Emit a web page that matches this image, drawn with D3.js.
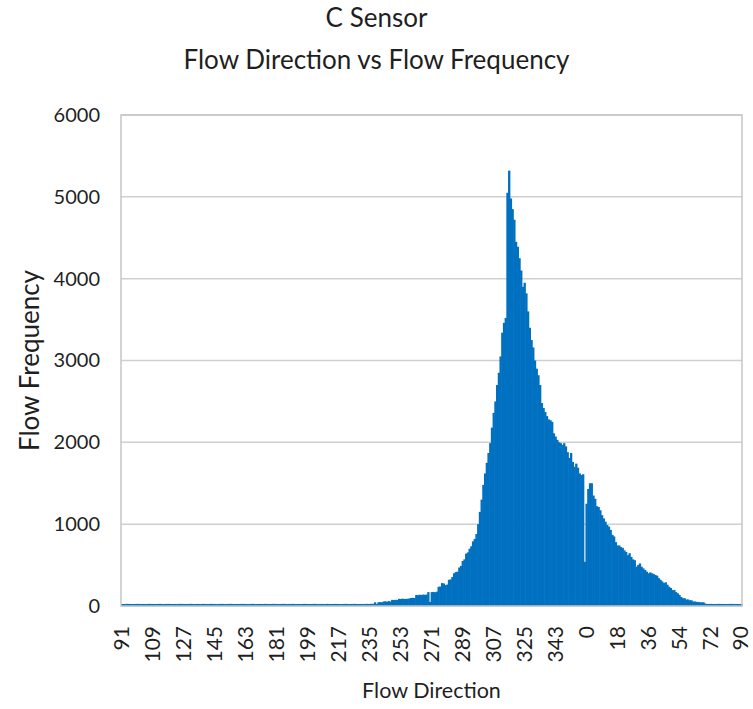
<!DOCTYPE html>
<html>
<head>
<meta charset="utf-8">
<script src="https://cdn.jsdelivr.net/npm/d3@7"></script>
<style>
  body { margin: 0; background: #fff; }
  text { font-family: Lato, "Open Sans", sans-serif; fill: #1f1f1f; }
</style>
</head>
<body>
<div id="chart"></div>
<script>
// directions run from 91 round through 360 and on to 90
const directions = d3.range(91, 361).concat(d3.range(0, 91)).map(String);

// counts for 91..360
const freqWest = [
  25,24,25,26,25,25,24,25,25,26,25,24,
  25,25,24,25,26,25,25,24,25,25,26,25,
  24,25,25,26,25,24,25,25,24,25,26,25,
  25,24,25,25,26,25,24,25,25,25,24,26,
  25,25,24,25,26,25,25,24,25,25,26,25,
  24,25,25,26,25,24,25,25,24,25,26,25,
  25,24,25,25,26,25,24,25,25,25,24,26,
  25,25,24,25,26,25,25,24,25,25,26,25,
  24,25,25,26,25,24,25,25,24,25,26,25,
  25,24,25,25,26,25,24,25,25,25,24,26,
  25,25,24,25,26,25,25,24,25,25,26,25,
  24,25,25,26,25,24,25,25,24,25,26,25,
  25,28,25,
  45,25,45,48,45,
  55,58,52,60,55,
  75,72,76,74,
  88,85,90,86,87,88,92,
  98,100,97,
  135,132,138,135,140,136,140,
  170,50,
  170,172,168,175,
  235,238,280,275,255,262,320,325,355,400,415,420,470,490,550,570,640,655,700,730,790,820,
  880,1000,1150,1300,1480,1620,1750,1870,1990,2180,2360,2500,2700,2850,3050,3340,3460,3520,
  5050,5320,4980,4850,4720,4450,4390,4250,4100,3900,3950,3820,3600,3400,3250,3160,
  3000,2900,2820,2700,2480,2420,2370,2320,2280,2270,2250,2110,2070,2030,2000,1990,
  1970,1990,1950,1880,1810,1870,1760,1700,1740,1690,1620,1600,1610,540
];

// counts for 0..90
const freqEast = [
  1250,1430,1500,1500,1350,1310,1220,1210,1170,1110,
  1070,1030,990,970,930,870,850,780,740,740,
  720,710,680,660,620,645,600,570,560,480,
  500,520,480,460,440,420,400,410,400,390,
  380,370,340,320,300,280,290,260,235,220,
  195,195,170,155,135,110,95,95,80,80,
  70,70,55,55,50,50,45,45,45,30,
  25,25,26,25,24,25,25,26,25,25,
  25,24,25,25,26,25,25,25,24,25,25
];

const yTicks = [0, 1000, 2000, 3000, 4000, 5000, 6000];

const counts = freqWest.concat(freqEast);
const data = directions.map((d, i) => ({ dir: d, n: counts[i] }));

const W = 753, H = 709;
const plot = { left: 121, right: 742, top: 115, bottom: 606 };

const svg = d3.select("#chart").append("svg")
    .attr("width", W)
    .attr("height", H);

const x = d3.scaleBand()
    .domain(directions)
    .range([plot.left, plot.right])
    .padding(0);

const y = d3.scaleLinear()
    .domain([0, 6000])
    .range([plot.bottom, plot.top]);

// gridlines
svg.append("g")
    .selectAll("line")
    .data(yTicks)
    .enter().append("line")
    .attr("x1", plot.left).attr("x2", plot.right)
    .attr("y1", d => y(d)).attr("y2", d => y(d))
    .attr("stroke", "#cfcfcf")
    .attr("stroke-width", 1.5);

// bars
svg.append("g")
    .selectAll("rect")
    .data(data)
    .enter().append("rect")
    .attr("x", d => x(d.dir))
    .attr("width", x.bandwidth() + 0.6)
    .attr("y", d => y(d.n))
    .attr("height", d => y(0) - y(d.n))
    .attr("fill", "#0070c0");

// plot border
svg.append("rect")
    .attr("x", plot.left).attr("y", plot.top)
    .attr("width", plot.right - plot.left)
    .attr("height", plot.bottom - plot.top)
    .attr("fill", "none")
    .attr("stroke", "#c6c6c6")
    .attr("stroke-width", 1.5);

// y axis
const yAxis = svg.append("g")
    .attr("transform", `translate(${plot.left}, 0)`)
    .call(d3.axisLeft(y).tickValues(yTicks).tickFormat(d3.format("d")).tickSize(0).tickPadding(21));
yAxis.select(".domain").remove();
yAxis.selectAll("text")
    .style("font-size", "20px")
    .style("font-family", "Lato, sans-serif")
    .attr("fill", "#1f1f1f");

// x axis
const xAxis = svg.append("g")
    .attr("transform", `translate(0, ${plot.bottom})`)
    .call(d3.axisBottom(x)
        .tickValues(directions.filter((d, i) => i % 18 === 0))
        .tickSize(0));
xAxis.select(".domain").remove();
xAxis.selectAll("text")
    .style("font-size", "21px")
    .style("font-family", "Lato, sans-serif")
    .attr("fill", "#1f1f1f")
    .attr("transform", "rotate(-90)")
    .attr("text-anchor", "end")
    .attr("x", -20)
    .attr("y", 0)
    .attr("dy", "0.35em");

// titles
svg.append("text")
    .attr("x", W / 2).attr("y", 27)
    .attr("text-anchor", "middle")
    .style("font-size", "26px")
    .text("C Sensor");

svg.append("text")
    .attr("x", W / 2).attr("y", 69)
    .attr("text-anchor", "middle")
    .style("font-size", "26px")
    .text("Flow Direction vs Flow Frequency");

svg.append("text")
    .attr("x", (plot.left + plot.right) / 2).attr("y", 698)
    .attr("text-anchor", "middle")
    .style("font-size", "21.5px")
    .text("Flow Direction");

svg.append("text")
    .attr("transform", `translate(39, ${(plot.top + plot.bottom) / 2}) rotate(-90)`)
    .attr("text-anchor", "middle")
    .style("font-size", "26px")
    .text("Flow Frequency");
</script>
</body>
</html>
